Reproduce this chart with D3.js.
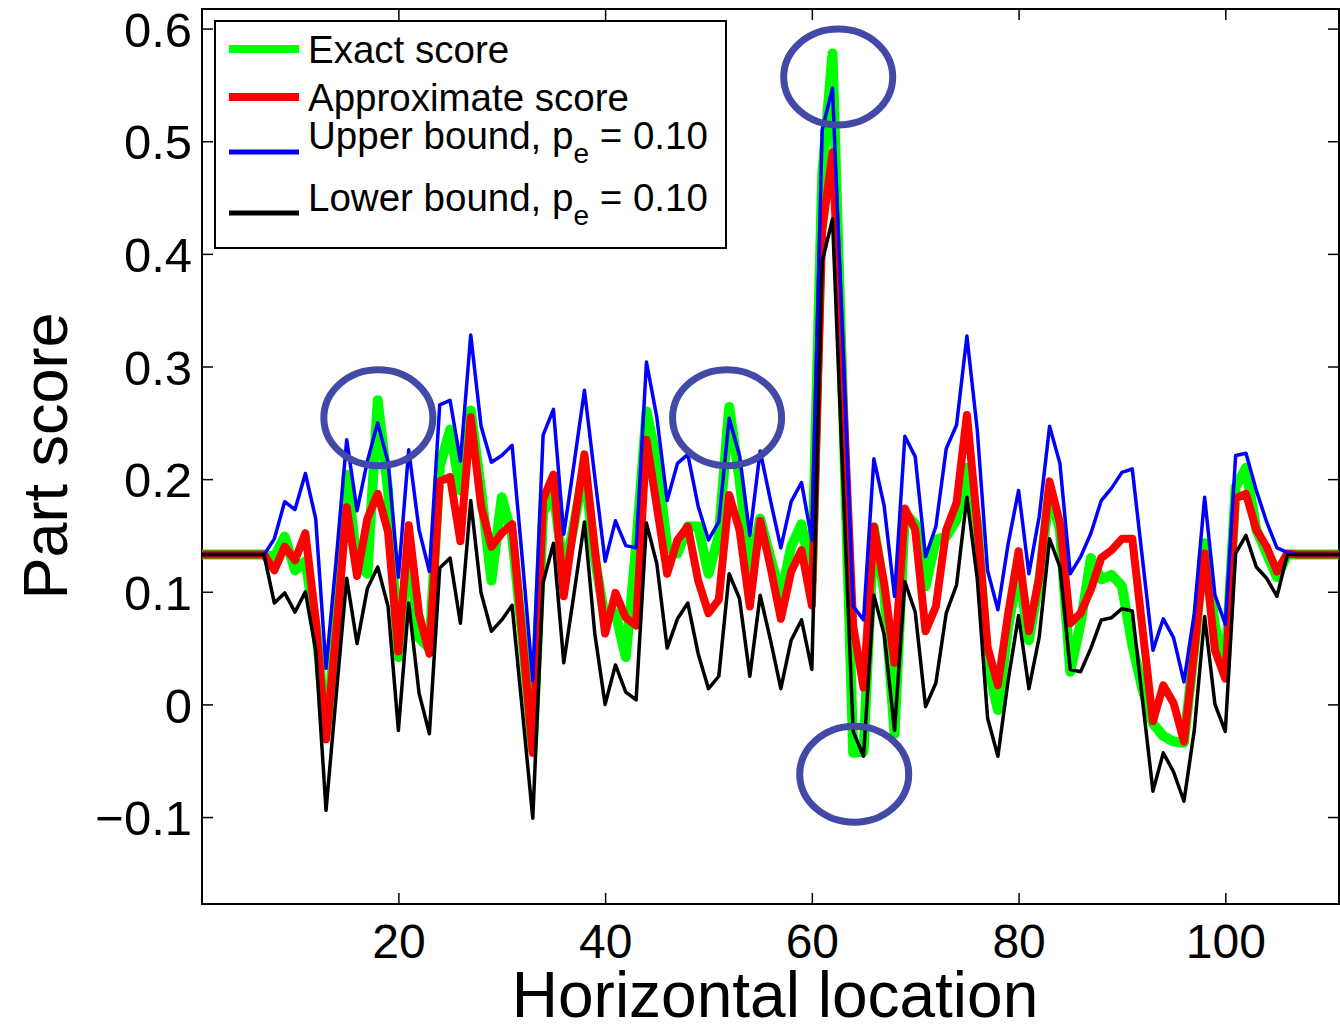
<!DOCTYPE html>
<html>
<head>
<meta charset="utf-8">
<script src="https://cdn.jsdelivr.net/npm/d3@7"></script>
<style>
  body { margin: 0; background: #fff; }
  svg { display: block; font-family: "Liberation Sans", Arial, Helvetica, sans-serif; }
</style>
</head>
<body>
<svg width="1340" height="1025"></svg>
<script>
// horizontal locations (one sample per location)
var locations = [
    1, 2, 3, 4, 5, 6, 7, 8, 9, 10,
    11, 12, 13, 14, 15, 16, 17, 18, 19, 20,
    21, 22, 23, 24, 25, 26, 27, 28, 29, 30,
    31, 32, 33, 34, 35, 36, 37, 38, 39, 40,
    41, 42, 43, 44, 45, 46, 47, 48, 49, 50,
    51, 52, 53, 54, 55, 56, 57, 58, 59, 60,
    61, 62, 63, 64, 65, 66, 67, 68, 69, 70,
    71, 72, 73, 74, 75, 76, 77, 78, 79, 80,
    81, 82, 83, 84, 85, 86, 87, 88, 89, 90,
    91, 92, 93, 94, 95, 96, 97, 98, 99, 100,
    101, 102, 103, 104, 105, 106, 107, 108, 109, 110, 111
];

var exactScore = [
    0.133, 0.133, 0.133, 0.133, 0.133, 0.133, 0.133, 0.131, 0.149, 0.119,
    0.127, 0.070, -0.025, 0.070, 0.204, 0.125, 0.116, 0.270, 0.190, 0.042,
    0.140, 0.059, 0.050, 0.211, 0.244, 0.190, 0.261, 0.190, 0.110, 0.184,
    0.150, 0.060, -0.040, 0.170, 0.190, 0.115, 0.160, 0.210, 0.130, 0.075,
    0.081, 0.042, 0.140, 0.260, 0.217, 0.140, 0.134, 0.158, 0.158, 0.116,
    0.150, 0.264, 0.200, 0.120, 0.165, 0.130, 0.096, 0.140, 0.160, 0.110,
    0.470, 0.578, 0.270, -0.043, -0.042, 0.157, 0.100, -0.026, 0.170, 0.160,
    0.105, 0.146, 0.149, 0.164, 0.210, 0.160, 0.036, -0.005, 0.070, 0.120,
    0.057, 0.110, 0.190, 0.155, 0.029, 0.072, 0.130, 0.111, 0.115, 0.105,
    0.053, 0.013, -0.017, -0.028, -0.033, -0.034, 0.050, 0.143, 0.070, 0.030,
    0.193, 0.210, 0.155, 0.134, 0.113, 0.133, 0.133, 0.133, 0.133, 0.133, 0.133
];

var approxScore = [
    0.133, 0.133, 0.133, 0.133, 0.133, 0.133, 0.133, 0.119, 0.140, 0.128,
    0.152, 0.075, -0.031, 0.065, 0.175, 0.114, 0.165, 0.187, 0.153, 0.047,
    0.159, 0.080, 0.045, 0.198, 0.202, 0.145, 0.255, 0.176, 0.140, 0.152,
    0.160, 0.060, -0.043, 0.182, 0.204, 0.096, 0.160, 0.222, 0.138, 0.063,
    0.099, 0.077, 0.070, 0.235, 0.176, 0.116, 0.146, 0.158, 0.110, 0.081,
    0.093, 0.186, 0.155, 0.087, 0.163, 0.122, 0.076, 0.118, 0.137, 0.088,
    0.420, 0.490, 0.280, 0.070, 0.015, 0.158, 0.107, 0.037, 0.174, 0.155,
    0.065, 0.087, 0.155, 0.179, 0.257, 0.161, 0.051, 0.017, 0.081, 0.136,
    0.065, 0.113, 0.198, 0.161, 0.072, 0.081, 0.102, 0.130, 0.137, 0.147,
    0.147, 0.066, -0.015, 0.017, 0.001, -0.033, 0.048, 0.134, 0.048, 0.023,
    0.183, 0.187, 0.155, 0.140, 0.118, 0.134, 0.133, 0.133, 0.133, 0.133, 0.133
];

var upperBound = [
    0.133, 0.133, 0.133, 0.133, 0.133, 0.133, 0.133, 0.147, 0.180, 0.173,
    0.205, 0.165, 0.032, 0.130, 0.235, 0.172, 0.216, 0.250, 0.215, 0.113,
    0.226, 0.155, 0.118, 0.266, 0.270, 0.216, 0.328, 0.247, 0.215, 0.221,
    0.230, 0.128, 0.021, 0.239, 0.262, 0.151, 0.214, 0.279, 0.202, 0.127,
    0.163, 0.141, 0.139, 0.304, 0.255, 0.181, 0.214, 0.222, 0.176, 0.146,
    0.162, 0.254, 0.221, 0.150, 0.225, 0.181, 0.139, 0.180, 0.197, 0.146,
    0.510, 0.547, 0.320, 0.087, 0.075, 0.218, 0.176, 0.096, 0.238, 0.220,
    0.131, 0.158, 0.227, 0.248, 0.327, 0.244, 0.119, 0.084, 0.143, 0.190,
    0.116, 0.167, 0.247, 0.214, 0.116, 0.131, 0.152, 0.181, 0.192, 0.206,
    0.209, 0.128, 0.048, 0.076, 0.059, 0.020, 0.081, 0.184, 0.097, 0.071,
    0.221, 0.223, 0.190, 0.162, 0.139, 0.135, 0.133, 0.133, 0.133, 0.133, 0.133
];

var lowerBound = [
    0.133, 0.133, 0.133, 0.133, 0.133, 0.133, 0.133, 0.090, 0.099, 0.082,
    0.100, 0.048, -0.094, 0.010, 0.112, 0.054, 0.103, 0.122, 0.087, -0.023,
    0.090, 0.010, -0.026, 0.121, 0.130, 0.072, 0.181, 0.099, 0.065, 0.075,
    0.088, -0.006, -0.101, 0.108, 0.143, 0.037, 0.099, 0.162, 0.063, 0.000,
    0.035, 0.011, 0.004, 0.161, 0.125, 0.050, 0.076, 0.090, 0.045, 0.014,
    0.025, 0.116, 0.094, 0.025, 0.097, 0.057, 0.014, 0.057, 0.075, 0.031,
    0.393, 0.431, 0.200, -0.024, -0.046, 0.097, 0.062, -0.023, 0.109, 0.082,
    -0.002, 0.019, 0.081, 0.106, 0.184, 0.112, -0.012, -0.046, 0.022, 0.079,
    0.014, 0.060, 0.147, 0.122, 0.031, 0.029, 0.050, 0.075, 0.077, 0.085,
    0.083, 0.003, -0.077, -0.043, -0.060, -0.086, -0.023, 0.078, 0.000, -0.024,
    0.134, 0.150, 0.122, 0.112, 0.096, 0.133, 0.133, 0.133, 0.133, 0.133, 0.133
];

var xTicks = [20, 40, 60, 80, 100];
var yTicks = [-0.1, 0, 0.1, 0.2, 0.3, 0.4, 0.5, 0.6];

// circled spots: [location, score]
var highlights = [[18.06, 0.2545], [51.8, 0.2546], [62.55, 0.557], [64.1, -0.062]];

var series = [
    { name: "Exact score", values: exactScore, color: "#00ff00", width: 10 },
    { name: "Approximate score", values: approxScore, color: "#ff0000", width: 8 },
    { name: "Upper bound, p", sub: "e", tail: " = 0.10", values: upperBound, color: "#0000ff", width: 3.5 },
    { name: "Lower bound, p", sub: "e", tail: " = 0.10", values: lowerBound, color: "#000000", width: 3.5 }
];

var svg = d3.select("svg");

var LEFT = 202, RIGHT = 1339, TOP = 9, BOTTOM = 904;
var TICKLEN = 11;

var x = d3.scaleLinear().domain([1, 111]).range([LEFT, RIGHT]);
var y = d3.scaleLinear().domain([-0.1772, 0.6174]).range([BOTTOM, TOP]);

svg.append("defs").append("clipPath").attr("id", "plotclip")
    .append("rect")
    .attr("x", LEFT).attr("y", TOP)
    .attr("width", RIGHT - LEFT).attr("height", BOTTOM - TOP);

// axes with inward ticks, mirrored on top / right
var fmt = function (d) { return d === 0 ? "0" : (d < 0 ? "\u2212" : "") + Math.abs(d).toFixed(1); };

var xAxis = svg.append("g")
    .attr("transform", "translate(0," + BOTTOM + ")")
    .call(d3.axisBottom(x).tickValues(xTicks).tickSizeInner(-TICKLEN).tickSizeOuter(0).tickPadding(20));
var yAxis = svg.append("g")
    .attr("transform", "translate(" + LEFT + ",0)")
    .call(d3.axisLeft(y).tickValues(yTicks).tickFormat(fmt).tickSizeInner(-TICKLEN).tickSizeOuter(0).tickPadding(10));
svg.append("g")
    .attr("transform", "translate(0," + TOP + ")")
    .call(d3.axisTop(x).tickValues(xTicks).tickSizeInner(-TICKLEN).tickSizeOuter(0).tickFormat(""));
svg.append("g")
    .attr("transform", "translate(" + RIGHT + ",0)")
    .call(d3.axisRight(y).tickValues(yTicks).tickSizeInner(-TICKLEN).tickSizeOuter(0).tickFormat(""));

svg.selectAll(".domain").remove();
svg.selectAll(".tick line").attr("stroke", "#000").attr("stroke-width", 1.5);

xAxis.selectAll("text")
    .attr("font-size", 48).attr("fill", "#000")
    .attr("font-family", "'Liberation Sans', Arial, sans-serif");
yAxis.selectAll("text")
    .attr("font-size", 49).attr("fill", "#000")
    .attr("dy", "0.36em")
    .attr("font-family", "'Liberation Sans', Arial, sans-serif");

svg.append("rect")
    .attr("x", LEFT).attr("y", TOP)
    .attr("width", RIGHT - LEFT).attr("height", BOTTOM - TOP)
    .attr("fill", "none").attr("stroke", "#000").attr("stroke-width", 2);

// score lines
var line = d3.line()
    .x(function (d, i) { return x(locations[i]); })
    .y(function (d) { return y(d); });

svg.append("g")
    .attr("clip-path", "url(#plotclip)")
    .selectAll("path")
    .data(series)
    .enter().append("path")
    .attr("d", function (d) { return line(d.values); })
    .attr("fill", "none")
    .attr("stroke", function (d) { return d.color; })
    .attr("stroke-width", function (d) { return d.width; })
    .attr("stroke-linejoin", "round")
    .attr("stroke-linecap", "round");

// circled spots
svg.append("g")
    .selectAll("ellipse")
    .data(highlights)
    .enter().append("ellipse")
    .attr("cx", function (d) { return x(d[0]); })
    .attr("cy", function (d) { return y(d[1]); })
    .attr("rx", 54.5)
    .attr("ry", 48)
    .attr("fill", "none")
    .attr("stroke", "#4349a7")
    .attr("stroke-width", 7);

// legend
var legend = svg.append("g");
legend.append("rect")
    .attr("x", 215).attr("y", 21)
    .attr("width", 511).attr("height", 227)
    .attr("fill", "#fff").attr("stroke", "#000").attr("stroke-width", 2);

var legendRows = [
    { lineY: 49, textY: 63 },
    { lineY: 97, textY: 111 },
    { lineY: 152, textY: 149 },
    { lineY: 213, textY: 211 }
];

series.forEach(function (s, i) {
    var r = legendRows[i];
    legend.append("line")
        .attr("x1", 229).attr("x2", 299)
        .attr("y1", r.lineY).attr("y2", r.lineY)
        .attr("stroke", s.color)
        .attr("stroke-width", s.width === 3.5 ? 5 : 8);
    var t = legend.append("text")
        .attr("x", 308).attr("y", r.textY)
        .attr("font-size", 38.5).attr("fill", "#000");
    t.append("tspan").text(s.name);
    if (s.sub) {
        t.append("tspan").attr("dy", 14).attr("font-size", 28).text(s.sub);
        t.append("tspan").attr("dy", -14).text(s.tail);
    }
});

// axis titles
svg.append("text")
    .attr("x", 775).attr("y", 1017)
    .attr("text-anchor", "middle")
    .attr("font-size", 64)
    .text("Horizontal location");

svg.append("text")
    .attr("transform", "translate(67," + 456 + ") rotate(-90)")
    .attr("text-anchor", "middle")
    .attr("font-size", 63)
    .text("Part score");
</script>
</body>
</html>
